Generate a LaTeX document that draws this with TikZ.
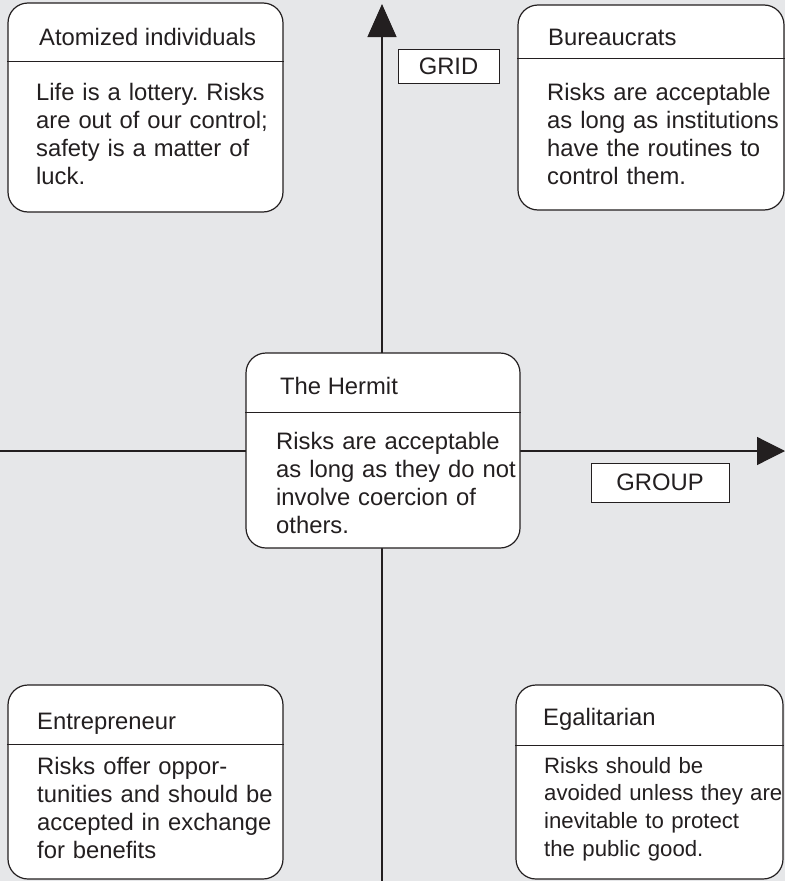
\documentclass[tikz,border=0pt]{standalone}
\usepackage{fontspec}
\setmainfont{Liberation Sans}
\usetikzlibrary{arrows.meta}
\frenchspacing
\definecolor{paper}{RGB}{230,231,233}
\definecolor{ink}{RGB}{35,31,32}
\newcommand{\cardfont}{\fontsize{23.8}{28}\selectfont}
\newcommand{\smallcardfont}{\fontsize{22.2}{27.7}\selectfont}
\tikzset{
  card/.style={draw=ink, line width=1.2pt, fill=white, rounded corners=20pt, inner sep=0pt},
  heading/.style={anchor=base west, inner sep=0pt, text=ink, font=\cardfont},
  body/.style={anchor=base west, inner sep=0pt, text=ink, align=left, text width=300pt, font=\cardfont},
  rule/.style={draw=ink, line width=1.2pt},
  axis/.style={draw=ink, line width=1.2pt},
  tag/.style={draw=ink, line width=1pt, fill=white, inner sep=0pt, text=ink, font=\cardfont}
}
\begin{document}
\begin{tikzpicture}[x=1pt,y=-1pt]
  \fill[paper] (0,0) rectangle (785,881);
  \useasboundingbox (0,0) rectangle (785,881);

  % axes
  \coordinate (gridfoot) at (382,881);
  \coordinate (gridtop) at (382,4);
  \coordinate (groupstart) at (0,451);
  \coordinate (groupend) at (785,451);
  \draw[axis, -{Triangle[length=33pt,width=29pt]}] (gridfoot) -- (gridtop);
  \draw[axis, -{Triangle[length=28pt,width=28pt]}] (groupstart) -- (groupend);

  % axis labels
  \node[tag, minimum width=101pt, minimum height=34pt] (gridtag) at (448.5,66) {GRID};
  \node[tag, minimum width=138pt, minimum height=39pt] (grouptag) at (660,482.5) {GROUP};

  % cards
  \node[card, minimum width=275pt, minimum height=209pt] (atom) at (145.5,107.5) {};
  \node[card, minimum width=266pt, minimum height=205pt] (bureau) at (651,107.5) {};
  \node[card, minimum width=274pt, minimum height=195pt] (hermit) at (383,450.5) {};
  \node[card, minimum width=275pt, minimum height=194pt] (entre) at (145.5,782) {};
  \node[card, minimum width=267pt, minimum height=194pt] (egal) at (649.5,782) {};

  % title dividers
  \draw[rule] ([yshift=-59pt]atom.north west) -- ([yshift=-59pt]atom.north east);
  \draw[rule] ([yshift=-54pt]bureau.north west) -- ([yshift=-54pt]bureau.north east);
  \draw[rule] ([yshift=-60pt]hermit.north west) -- ([yshift=-60pt]hermit.north east);
  \draw[rule] ([yshift=-60pt]entre.north west) -- ([yshift=-60pt]entre.north east);
  \draw[rule] ([yshift=-61pt]egal.north west) -- ([yshift=-61pt]egal.north east);

  % card texts
  \node[heading] (atomtitle) at (39,45) {Atomized individuals};
  \node[body] (atombody) at (36,100) {Life is a lottery. Risks\\are out of our control;\\safety is a matter of\\luck.};

  \node[heading] (bureautitle) at (548,45) {Bureaucrats};
  \node[body] (bureaubody) at (547,100) {Risks are acceptable\\as long as institutions\\have the routines to\\control them.};

  \node[heading] (hermittitle) at (280,394) {The Hermit};
  \node[body] (hermitbody) at (276,449) {Risks are acceptable\\as long as they do not\\involve coercion of\\others.};

  \node[heading] (entretitle) at (37,729) {Entrepreneur};
  \node[body] (entrebody) at (37,774) {Risks offer oppor-\\tunities and should be\\accepted in exchange\\for benefits};

  \node[heading] (egaltitle) at (543,725) {Egalitarian};
  \node[body, font=\smallcardfont] (egalbody) at (544,773) {Risks should be\\avoided unless they are\\inevitable to protect\\the public good.};
\end{tikzpicture}
\end{document}
